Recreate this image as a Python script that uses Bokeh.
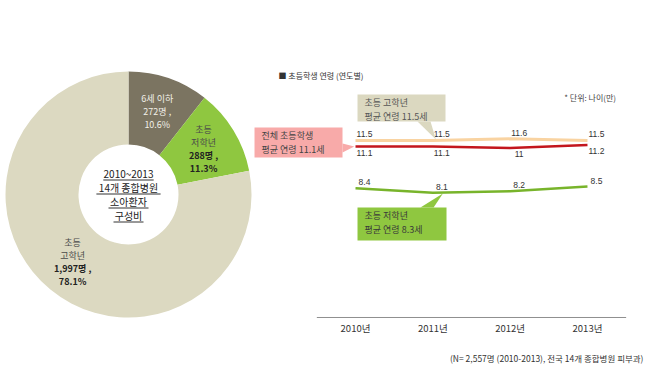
import math
from bokeh.plotting import figure
from bokeh.models import Range1d
from bokeh.core.properties import value
from bokeh.embed import file_html
from bokeh.resources import INLINE

# ---------------- data ----------------
slice_names = [["6세 이하"], ["초등", "저학년"], ["초등", "고학년"]]
slice_counts = ["272명 ,", "288명 ,", "1,997명 ,"]
slice_pcts = [10.6, 11.3, 78.1]
slice_colors = ["#7b7461", "#8fc740", "#dcd9c1"]
center_lines = ["2010~2013", "14개 종합병원", "소아환자", "구성비"]

years = [2010, 2011, 2012, 2013]
year_labels = ["2010년", "2011년", "2012년", "2013년"]
upper_age = [11.5, 11.5, 11.6, 11.5]   # 초등 고학년
all_age = [11.1, 11.1, 11.0, 11.2]     # 전체 초등학생
lower_age = [8.4, 8.1, 8.2, 8.5]       # 초등 저학년
upper_avg, all_avg, lower_avg = 11.5, 11.1, 8.3

chart_title = "■ 초등학생 연령 (연도별)"
unit_note = "* 단위: 나이(만)"
footnote = "(N= 2,557명 (2010-2013), 전국 14개 종합병원 피부과)"

KR = value("Noto Sans CJK KR")
LAT = value("Liberation Sans")

W, H = 650, 366
p = figure(width=W, height=H, x_range=Range1d(0, W), y_range=Range1d(0, H),
           x_axis_location=None, y_axis_location=None, min_border=0,
           toolbar_location=None, output_backend="svg")
p.grid.visible = False
p.outline_line_color = None
p.background_fill_color = "white"

# line-chart scales (years / ages) sharing the same canvas
p.extra_x_ranges = {"yr": Range1d(2005.409, 2013.815)}
p.extra_y_ranges = {"age": Range1d(-3.182, 20.584)}
YA = dict(x_range_name="yr", y_range_name="age")

# ---------------- donut ----------------
CX, CY = 128, 172
R_OUT, R_IN, R_LAB = 123, 50, 88
cum = 0.0
for i, pct in enumerate(slice_pcts):
    f0 = cum / 100.0
    f1 = (cum + pct) / 100.0
    cum += pct
    p.annular_wedge(x=CX, y=CY, inner_radius=R_IN, outer_radius=R_OUT,
                    start_angle=math.pi / 2 - 2 * math.pi * f0,
                    end_angle=math.pi / 2 - 2 * math.pi * f1,
                    direction="clock", fill_color=slice_colors[i], line_color=None)
    mid = math.pi / 2 - 2 * math.pi * (f0 + f1) / 2
    lx, ly = CX + R_LAB * math.cos(mid), CY + R_LAB * math.sin(mid)
    lines = slice_names[i] + [slice_counts[i], f"{pct}%"]
    n = len(lines)
    step = 13
    for j, t in enumerate(lines):
        is_name = j < len(slice_names[i])
        if i == 0:
            col = "#f2f0e8"
            style = "normal"
        else:
            col = "#4a4a4a" if is_name else "#222222"
            style = "normal" if is_name else "bold"
        p.text(x=[lx], y=[ly + (n - 1) / 2 * step - j * step], text=[t],
               text_align="center", text_baseline="middle",
               text_font=KR, text_font_size="9px", text_color=col,
               text_font_style=style)

def text_width(s, fs):
    w = 0.0
    for ch in s:
        if ord(ch) > 0x1100:
            w += fs * 1.0
        elif ch == " ":
            w += fs * 0.3
        else:
            w += fs * 0.56
    return w

cstep = 14
for j, t in enumerate(center_lines):
    yy = CY + (len(center_lines) - 1) / 2 * cstep - j * cstep
    p.text(x=[CX], y=[yy], text=[t], text_align="center", text_baseline="middle",
           text_font=KR, text_font_size="10px", text_color="#222222")
    w = text_width(t, 10)
    p.segment(x0=[CX - w / 2], y0=[yy - 6.5], x1=[CX + w / 2], y1=[yy - 6.5],
              line_color="#333333", line_width=1)

# ---------------- line chart ----------------
# baseline (x axis) and year labels
p.segment(x0=[years[0] - 0.5], y0=[0], x1=[years[-1] + 0.5], y1=[0],
          line_color="#8f8f8f", line_width=1, **YA)
p.text(years, [0] * len(years), text=year_labels, y_offset=11, text_align="center",
       text_baseline="middle", text_font=KR, text_font_size="9.5px",
       text_color="#333333", **YA)

p.line(years, upper_age, line_color="#f9d3a1", line_width=3, **YA)
p.line(years, all_age, line_color="#c3161d", line_width=2.5, **YA)
p.line(years, lower_age, line_color="#78b42b", line_width=2.5, **YA)

fmt = lambda v: f"{v:g}"
common = dict(text_font=LAT, text_font_size="8.5px", text_color="#333333",
              text_align="center", **YA)
p.text(years, upper_age, text=[fmt(v) for v in upper_age], text_baseline="bottom",
       y_offset=-3, x_offset=9, **common)
p.text(years, all_age, text=[fmt(v) for v in all_age], text_baseline="top",
       y_offset=3, x_offset=9, **common)
p.text(years, lower_age, text=[fmt(v) for v in lower_age], text_baseline="bottom",
       y_offset=-3, x_offset=9, **common)

# title, unit note, footnote
p.text([2009.004], [15.71], text=[chart_title], text_baseline="middle", text_align="left",
       text_font=KR, text_font_size="8px", text_color="#333333", **YA)
p.text([2013.369], [14.29], text=[unit_note], text_baseline="middle", text_align="right",
       text_font=KR, text_font_size="8px", text_color="#444444", **YA)
p.text([2013.724], [-2.60], text=[footnote], text_baseline="middle", text_align="right",
       text_font=KR, text_font_size="8.5px", text_color="#333333", **YA)

# callouts
def callout(box, tri, color, lines, tcolor):
    x0, x1, y0, y1 = box
    p.quad(left=x0, right=x1, bottom=y0, top=y1, fill_color=color, line_color=None, **YA)
    p.patch([t[0] for t in tri], [t[1] for t in tri], fill_color=color,
            line_color=None, **YA)
    for j, t in enumerate(lines):
        p.text([x0], [y1], text=[t], x_offset=7, y_offset=8 + j * 14,
               text_baseline="middle", text_align="left",
               text_font=KR, text_font_size="9px", text_color=tcolor, **YA)

callout((2010.026, 2011.164, 12.73, 14.48),
        [(2010.802, 12.73), (2010.970, 12.73), (years[1] + 0.04, upper_age[1] + 0.05)],
        "#dbd8c0", ["초등 고학년", f"평균 연령 {upper_avg}세"], "#555555")
callout((2008.694, 2009.832, 10.39, 12.34),
        [(2009.832, 11.30), (2009.832, 10.71), (years[0] - 0.015, all_age[0])],
        "#f8aaa9", ["전체 초등학생", f"평균 연령 {all_avg}세"], "#444444")
callout((2010.026, 2011.177, 5.0, 7.14),
        [(2010.84, 7.14), (2011.01, 7.14), (years[1] + 0.13, lower_age[1] - 0.05)],
        "#8fc740", ["초등 저학년", f"평균 연령 {lower_avg}세"], "#3a3a3a")

open("out.html", "w").write(file_html(p, INLINE))
